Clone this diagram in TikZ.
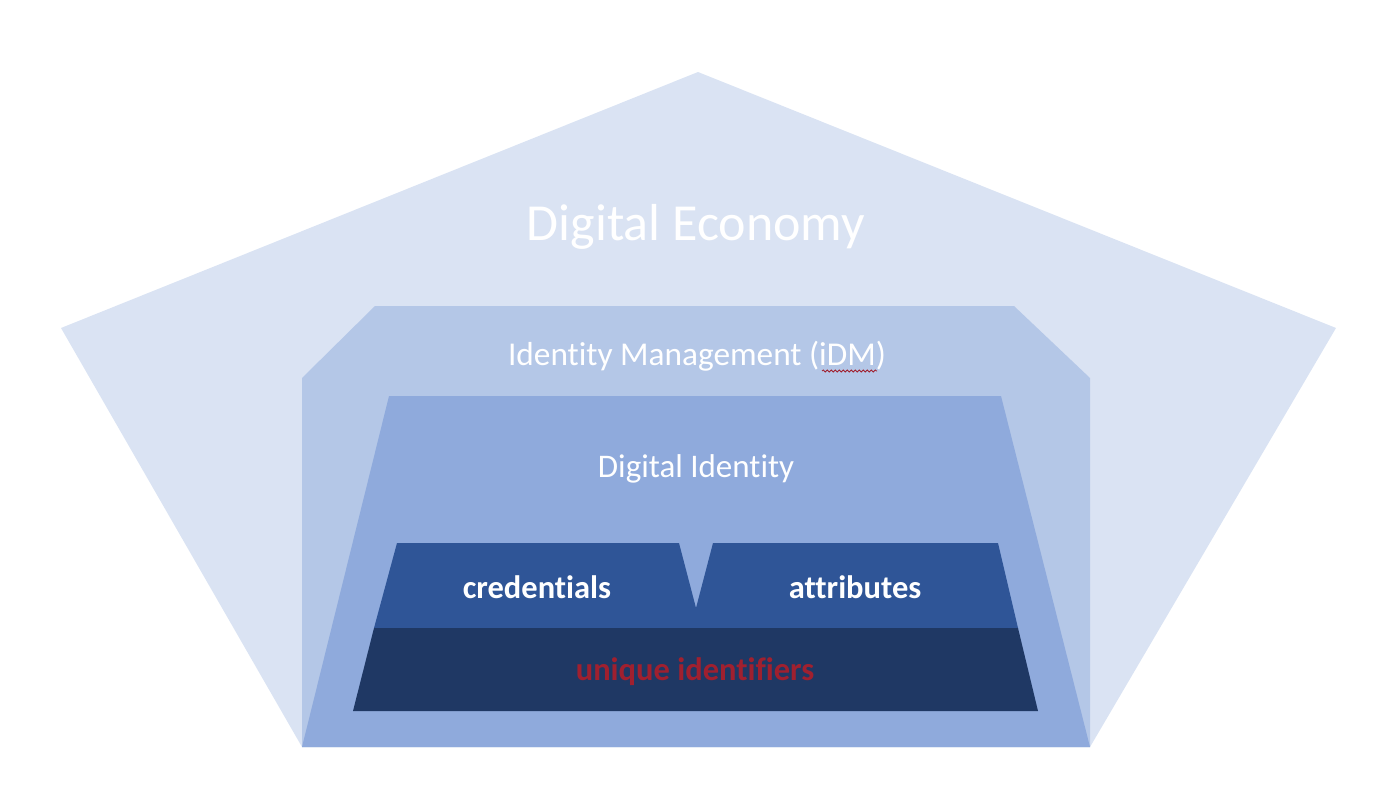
\documentclass[tikz,border=0pt]{standalone}
\usepackage{fontspec}
\setmainfont{Carlito}[Ligatures=NoCommon]
\usetikzlibrary{decorations.pathmorphing}
\definecolor{econ}{HTML}{DAE3F3}
\definecolor{idm}{HTML}{B4C7E7}
\definecolor{did}{HTML}{8FAADC}
\definecolor{cred}{HTML}{2F5597}
\definecolor{uniq}{HTML}{1F3864}
\definecolor{redtxt}{HTML}{A0202F}
\tikzset{
  lbl/.style={anchor=base, text=white, inner sep=0pt},
}
\begin{document}
\begin{tikzpicture}[x=1pt,y=-1pt]
\useasboundingbox (0,0) rectangle (1400,797);
% outer pentagon
\fill[econ] (698,72) -- (1336,328) -- (1090,747) -- (302,747) -- (61,328) -- cycle;
% IdM
\fill[idm] (375,306) -- (1014,306) -- (1090,378) -- (1090,747) -- (302,747) -- (302,378) -- cycle;
% Digital identity
\fill[did] (389,396) -- (1001,396) -- (1090,747) -- (302,747) -- cycle;
% credentials / attributes
\fill[cred] (397,543) -- (679,543) -- (696,608) -- (713,543) -- (998,543) -- (1018,628) -- (374,628) -- cycle;
% unique identifiers
\fill[uniq] (374,628) -- (1018,628) -- (1038,711) -- (353,711) -- cycle;
% labels
\node[lbl, font=\fontsize{52}{60}\selectfont] (econ) at (696,240) {Digital Economy};
\node[lbl, font=\fontsize{33.3}{40}\selectfont] (idmt) at (697,365) {Identity Management (iDM)};
\node[lbl, font=\fontsize{33}{40}\selectfont] (didt) at (696,477) {Digital Identity};
\node[lbl, font=\bfseries\fontsize{32.5}{38}\selectfont] (credt) at (537,598) {credentials};
\node[lbl, font=\bfseries\fontsize{32.5}{38}\selectfont] (attrt) at (855,598) {attributes};
\node[lbl, text=redtxt, font=\bfseries\fontsize{32.5}{38}\selectfont] (uniqt) at (695,680) {unique identifiers};
% spell-check squiggle
\coordinate (sq1) at (822,371);
\coordinate (sq2) at (877,371);
\draw[redtxt, line width=0.8pt, decorate, decoration={snake, amplitude=1pt, segment length=4pt}] (sq1) -- (sq2);
\end{tikzpicture}
\end{document}
